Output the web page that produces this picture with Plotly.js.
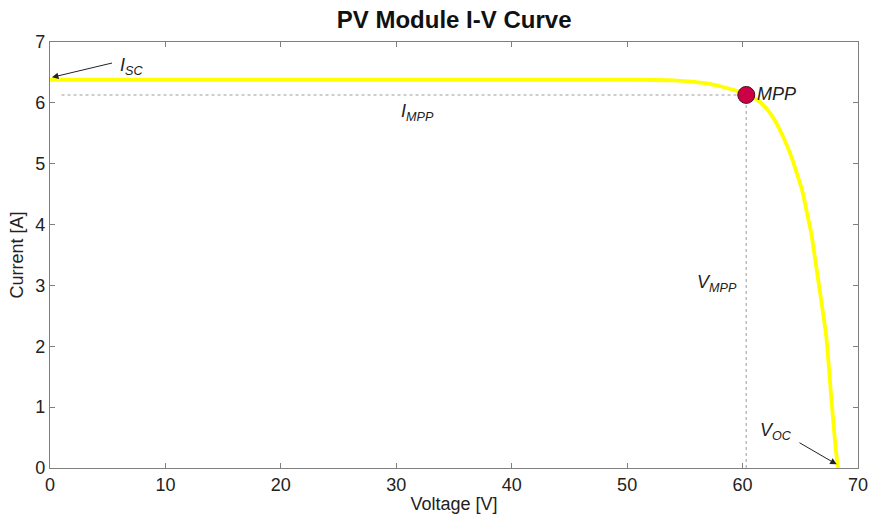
<!DOCTYPE html>
<html>
<head>
<meta charset="utf-8">
<script src="https://cdn.plot.ly/plotly-3.0.1.min.js"></script>
<style>html,body{margin:0;padding:0;background:#fff;}#chart{width:870px;height:518px;}</style>
</head>
<body>
<div id="chart"></div>
<script>
// I-V curve samples
var voltage = [0, 10, 20, 30, 40, 47, 51.1, 54.0, 56.9, 58.3, 59.45, 60.32, 61.19, 62.05, 62.92, 63.64, 64.22, 64.79, 65.22, 65.65, 65.95, 66.38, 66.81, 67.25, 67.68, 68.05, 68.27];
var current = [6.38, 6.38, 6.38, 6.38, 6.38, 6.38, 6.38, 6.37, 6.32, 6.26, 6.20, 6.13, 6.06, 5.91, 5.67, 5.39, 5.12, 4.79, 4.52, 4.13, 3.86, 3.31, 2.76, 2.16, 1.17, 0.35, 0];
var isc = 6.38;
var voc = 68.27;
var vmpp = 60.32;
var impp = 6.13;
var xTicks = [0, 10, 20, 30, 40, 50, 60, 70];
var yTicks = [0, 1, 2, 3, 4, 5, 6, 7];

var font = 'Liberation Sans, Arial, sans-serif';
var gridCol = '#bdbdbd';
var txt = '#222';

var traces = [
  {x: [1, vmpp], y: [impp, impp], mode: 'lines', line: {color: gridCol, width: 1.5, dash: 'dot'}, hoverinfo: 'skip'},
  {x: [vmpp, vmpp], y: [0, impp], mode: 'lines', line: {color: gridCol, width: 1.5, dash: 'dot'}, hoverinfo: 'skip'},
  {x: voltage, y: current, mode: 'lines', line: {color: '#ffff00', width: 3.8, shape: 'spline', smoothing: 0.6}},
  {x: [vmpp], y: [impp], mode: 'markers', marker: {size: 17, color: 'rgb(204,0,68)', line: {color: '#4a1020', width: 1}}}
];

var axisCommon = {
  showgrid: false, zeroline: false, showline: true, mirror: 'ticks',
  linecolor: '#7f7f7f', linewidth: 1.2, ticks: 'inside', ticklen: 5, tickcolor: '#7f7f7f',
  tickfont: {family: font, size: 18, color: txt}, automargin: false
};

var layout = {
  width: 870, height: 518,
  margin: {l: 50, r: 12, t: 42, b: 50},
  paper_bgcolor: '#fff', plot_bgcolor: '#fff',
  showlegend: false,
  title: {text: '<b>PV Module I-V Curve</b>', x: 0.522, xanchor: 'center', y: 0.963, yanchor: 'middle', font: {family: font, size: 24, color: '#111'}},
  xaxis: Object.assign({}, axisCommon, {range: [0, 70], tickvals: xTicks, title: {text: 'Voltage [V]', standoff: 3, font: {family: font, size: 18, color: txt}}}),
  yaxis: Object.assign({}, axisCommon, {range: [0, 7], tickvals: yTicks, ticklabelstandoff: 0, title: {text: 'Current [A]', standoff: 6, font: {family: font, size: 18, color: txt}}}),
  annotations: [
    {x: 0.17, y: 6.42, ax: 5.5, ay: 6.66, axref: 'x', ayref: 'y', xref: 'x', yref: 'y', text: '', showarrow: true, arrowhead: 2, arrowsize: 1.3, arrowwidth: 1, arrowcolor: txt},
    {x: 7.1, y: 6.6, xref: 'x', yref: 'y', text: '<i>I<sub>SC</sub></i>', showarrow: false, font: {family: font, size: 18, color: txt}},
    {x: 68.15, y: 0.06, ax: 64.8, ay: 0.43, axref: 'x', ayref: 'y', xref: 'x', yref: 'y', text: '', showarrow: true, arrowhead: 2, arrowsize: 1.3, arrowwidth: 1, arrowcolor: txt},
    {x: 62.9, y: 0.6, xref: 'x', yref: 'y', text: '<i>V<sub>OC</sub></i>', showarrow: false, font: {family: font, size: 18, color: txt}},
    {x: 61.1, y: impp + 0.02, xref: 'x', yref: 'y', xanchor: 'left', text: '<i>MPP</i>', showarrow: false, font: {family: font, size: 18, color: txt}},
    {x: 31.8, y: 5.84, xref: 'x', yref: 'y', text: '<i>I<sub>MPP</sub></i>', showarrow: false, font: {family: font, size: 18, color: txt}},
    {x: 57.8, y: 3.03, xref: 'x', yref: 'y', text: '<i>V<sub>MPP</sub></i>', showarrow: false, font: {family: font, size: 18, color: txt}}
  ]
};

Plotly.newPlot('chart', traces, layout, {displayModeBar: false, staticPlot: true});
</script>
</body>
</html>
